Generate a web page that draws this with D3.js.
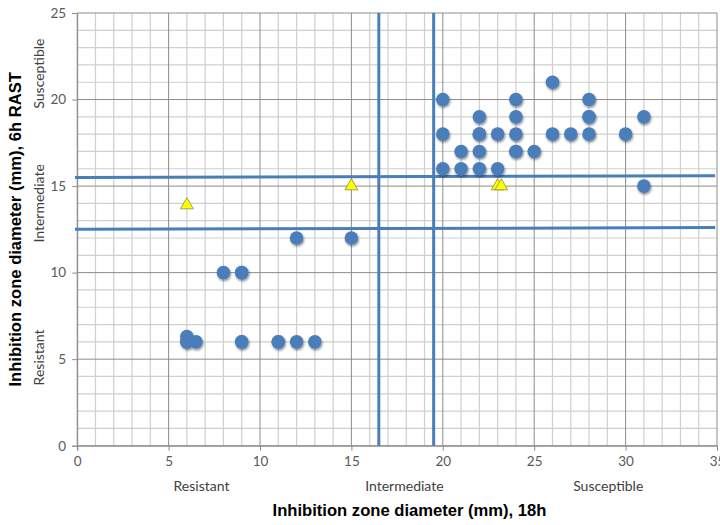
<!DOCTYPE html>
<html>
<head>
<meta charset="utf-8">
<script src="https://cdn.jsdelivr.net/npm/d3@7"></script>
<style>
  html, body { margin: 0; padding: 0; background: #fff; }
  svg { display: block; }
</style>
</head>
<body>
<svg id="chart" width="720" height="525"></svg>
<script>
// Isolates: inhibition zone diameter at 18h (x) vs 6h RAST (y)
const circleX = [6, 6, 6, 6.5, 9, 9, 11, 11, 12, 13, 8, 9, 9, 12, 15,
                 26, 20, 24, 28, 22, 24, 28, 28, 31,
                 20, 22, 22, 23, 24, 26, 27, 28, 30,
                 21, 22, 24, 24, 25, 20, 21, 22, 23, 31];
const circleY = [6, 6, 6.3, 6, 6, 6, 6, 6, 6, 6, 10, 10, 10, 12, 12,
                 21, 20, 20, 20, 19, 19, 19, 19, 19,
                 18, 18, 18, 18, 18, 18, 18, 18, 18,
                 17, 17, 17, 17, 17, 16, 16, 16, 16, 15];
const triangleX = [6, 15, 23, 23.2];
const triangleY = [13.9, 15, 15, 15];

// Breakpoint lines
const vBreaks = [16.5, 19.5];
const hBreakStart = [15.5, 12.5];
const hBreakEnd = [15.6, 12.6];

const xTicks = [0, 5, 10, 15, 20, 25, 30, 35];
const yTicks = [0, 5, 10, 15, 20, 25];
const xCategories = ["Resistant", "Intermediate", "Susceptible"];
const xCategoryAt = [6.8, 17.9, 29.05];
const yCategories = ["Susceptible", "Intermediate", "Resistant"];
const yCategoryAt = [21.5, 14.0, 5.1];
const xTitle = "Inhibition zone diameter (mm), 18h";
const yTitle = "Inhibition zone diameter (mm), 6h RAST";

const svg = d3.select("#chart");
const x = d3.scaleLinear().domain([0, 35]).range([77.2, 717]);
const y = d3.scaleLinear().domain([0, 25]).range([445.7, 13]);

const defs = svg.append("defs");
const f = defs.append("filter").attr("id", "shadow")
  .attr("x", "-50%").attr("y", "-50%").attr("width", "200%").attr("height", "200%");
f.append("feDropShadow").attr("dx", 0.8).attr("dy", 1.6)
  .attr("stdDeviation", 1.1).attr("flood-color", "#000").attr("flood-opacity", 0.45);

// Grid
const grid = svg.append("g");
const minorX = d3.range(0, 36, 1).filter(v => v % 5 !== 0);
const minorY = d3.range(0, 26, 1).filter(v => v % 5 !== 0);
grid.selectAll(".mx").data(minorX).join("line")
  .attr("x1", d => x(d)).attr("x2", d => x(d)).attr("y1", y(0)).attr("y2", y(25))
  .attr("stroke", "#cfcfcf").attr("stroke-width", 1.2);
grid.selectAll(".my").data(minorY).join("line")
  .attr("y1", d => y(d)).attr("y2", d => y(d)).attr("x1", x(0)).attr("x2", x(35))
  .attr("stroke", "#cfcfcf").attr("stroke-width", 1.2);
grid.selectAll(".Mx").data(xTicks).join("line")
  .attr("x1", d => x(d)).attr("x2", d => x(d)).attr("y1", y(0)).attr("y2", y(25))
  .attr("stroke", "#8c8c8c").attr("stroke-width", 1);
grid.selectAll(".My").data(yTicks).join("line")
  .attr("y1", d => y(d)).attr("y2", d => y(d)).attr("x1", x(0)).attr("x2", x(35))
  .attr("stroke", "#8c8c8c").attr("stroke-width", 1);

// Axes
const xAxis = d3.axisBottom(x).tickValues(xTicks).tickSize(5).tickPadding(6).tickFormat(d3.format("d"));
const yAxis = d3.axisLeft(y).tickValues(yTicks).tickSize(5).tickPadding(6).tickFormat(d3.format("d"));
const gx = svg.append("g").attr("transform", `translate(0,${y(0)})`).call(xAxis);
const gy = svg.append("g").attr("transform", `translate(${x(0)},0)`).call(yAxis);
[gx, gy].forEach(g => {
  g.select(".domain").attr("stroke", "#8c8c8c");
  g.selectAll(".tick line").attr("stroke", "#8c8c8c");
  g.selectAll("text").attr("font-family", "Lato, 'Open Sans', sans-serif")
    .attr("font-size", 13.5).attr("fill", "#595959");
});

// Breakpoint lines
const lineColor = "#4a7ebb";
svg.selectAll(".vb").data(vBreaks).join("line")
  .attr("x1", d => x(d)).attr("x2", d => x(d)).attr("y1", y(0)).attr("y2", y(25))
  .attr("stroke", lineColor).attr("stroke-width", 3);
svg.selectAll(".hb").data(hBreakStart).join("line")
  .attr("x1", x(-0.12)).attr("x2", x(34.9))
  .attr("y1", d => y(d)).attr("y2", (d, i) => y(hBreakEnd[i]))
  .attr("stroke", lineColor).attr("stroke-width", 3);

// Points
const pts = circleX.map((v, i) => ({ x: v, y: circleY[i] }));
svg.append("g").attr("filter", "url(#shadow)")
  .selectAll("circle").data(pts).join("circle")
  .attr("cx", d => x(d.x)).attr("cy", d => y(d.y)).attr("r", 6.8)
  .attr("fill", "#4a7ebb");

const tri = triangleX.map((v, i) => ({ x: v, y: triangleY[i] }));
svg.append("g").selectAll("path").data(tri).join("path")
  .attr("d", d3.symbol().type(d3.symbolTriangle).size(72))
  .attr("transform", d => `translate(${x(d.x)},${y(d.y)})`)
  .attr("fill", "#ffff00").attr("stroke", "#8a8a3a").attr("stroke-width", 0.8);

// Category labels
svg.selectAll(".xc").data(xCategories).join("text")
  .attr("x", (d, i) => x(xCategoryAt[i])).attr("y", 491)
  .attr("text-anchor", "middle")
  .attr("font-family", "Lato, 'Open Sans', sans-serif").attr("font-size", 14)
  .attr("fill", "#404040").text(d => d);
svg.selectAll(".yc").data(yCategories).join("text")
  .attr("transform", (d, i) => `translate(44,${y(yCategoryAt[i])}) rotate(-90)`)
  .attr("text-anchor", "middle")
  .attr("font-family", "Lato, 'Open Sans', sans-serif").attr("font-size", 14)
  .attr("fill", "#404040").text(d => d);

// Titles
svg.append("text").attr("x", 409.5).attr("y", 516).attr("text-anchor", "middle")
  .attr("font-family", "'Liberation Sans', Arial, sans-serif").attr("font-weight", "bold")
  .attr("font-size", 16.6).attr("fill", "#000").text(xTitle);
svg.append("text").attr("transform", `translate(21,${(y(0) + y(25)) / 2}) rotate(-90)`)
  .attr("text-anchor", "middle")
  .attr("font-family", "'Liberation Sans', Arial, sans-serif").attr("font-weight", "bold")
  .attr("font-size", 16.6).attr("fill", "#000").text(yTitle);
</script>
</body>
</html>
